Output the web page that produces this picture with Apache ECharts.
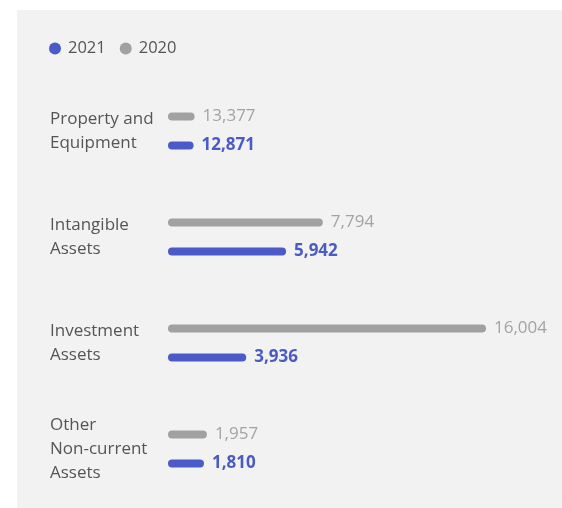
<!DOCTYPE html>
<html><head><meta charset="utf-8">
<script src="https://cdn.jsdelivr.net/npm/echarts@6/dist/echarts.min.js"></script>
<style>html,body{margin:0;padding:0;background:#fff;}#c{width:562px;height:508px;}</style>
</head><body><div id="c"></div>
<script>
const categories = ['Property and\nEquipment', 'Intangible\nAssets', 'Investment\nAssets', 'Other\nNon-current\nAssets'];
const seriesNames = ['2021', '2020'];
// bar lengths as drawn in the reference (Property bars are drawn short in the original)
const values2020 = [1337.7, 7794, 16004, 1957];
const values2021 = [1287.1, 5942, 3936, 1810];
const labels2020 = ['13,377', '7,794', '16,004', '1,957'];
const labels2021 = ['12,871', '5,942', '3,936', '1,810'];

const FONT = 'Open Sans';
const chart = echarts.init(document.getElementById('c'), null, {renderer: 'canvas'});
chart.setOption({
  animation: false,
  textStyle: {fontFamily: FONT},
  graphic: [{type: 'rect', z: -10, shape: {x: 17, y: 10, width: 545, height: 498}, style: {fill: '#f1f2f1'}}],
  legend: {
    data: seriesNames, left: 44, top: 35, icon: 'circle', itemWidth: 12, itemHeight: 12, itemGap: 14,
    textStyle: {fontFamily: FONT, fontSize: 16.5, color: '#555', padding: [0, 0, 0, 2]}
  },
  grid: {left: 168, right: 76, top: 78, bottom: 6, containLabel: false},
  xAxis: {type: 'value', min: 0, max: 16004, show: false},
  yAxis: {
    type: 'category', data: categories, inverse: true,
    axisLine: {show: false}, axisTick: {show: false}, splitLine: {show: false},
    axisLabel: {align: 'left', margin: 118, fontFamily: FONT, fontSize: 17, lineHeight: 24, color: '#555', padding: [3, 0, 0, 0]}
  },
  series: [
    {
      name: '2020', type: 'bar', data: values2020, barWidth: 8, barGap: '262%',
      itemStyle: {color: '#a0a1a0', borderRadius: 4},
      label: {show: true, position: 'right', distance: 8, fontFamily: FONT, fontSize: 17, color: '#a3a3a3',
        formatter: p => labels2020[p.dataIndex]}
    },
    {
      name: '2021', type: 'bar', data: values2021, barWidth: 8,
      itemStyle: {color: '#4a5ac9', borderRadius: 4},
      label: {show: true, position: 'right', distance: 8, fontFamily: FONT, fontSize: 17, fontWeight: 'bold', color: '#4a5ac9',
        formatter: p => labels2021[p.dataIndex]}
    }
  ]
});
</script></body></html>
